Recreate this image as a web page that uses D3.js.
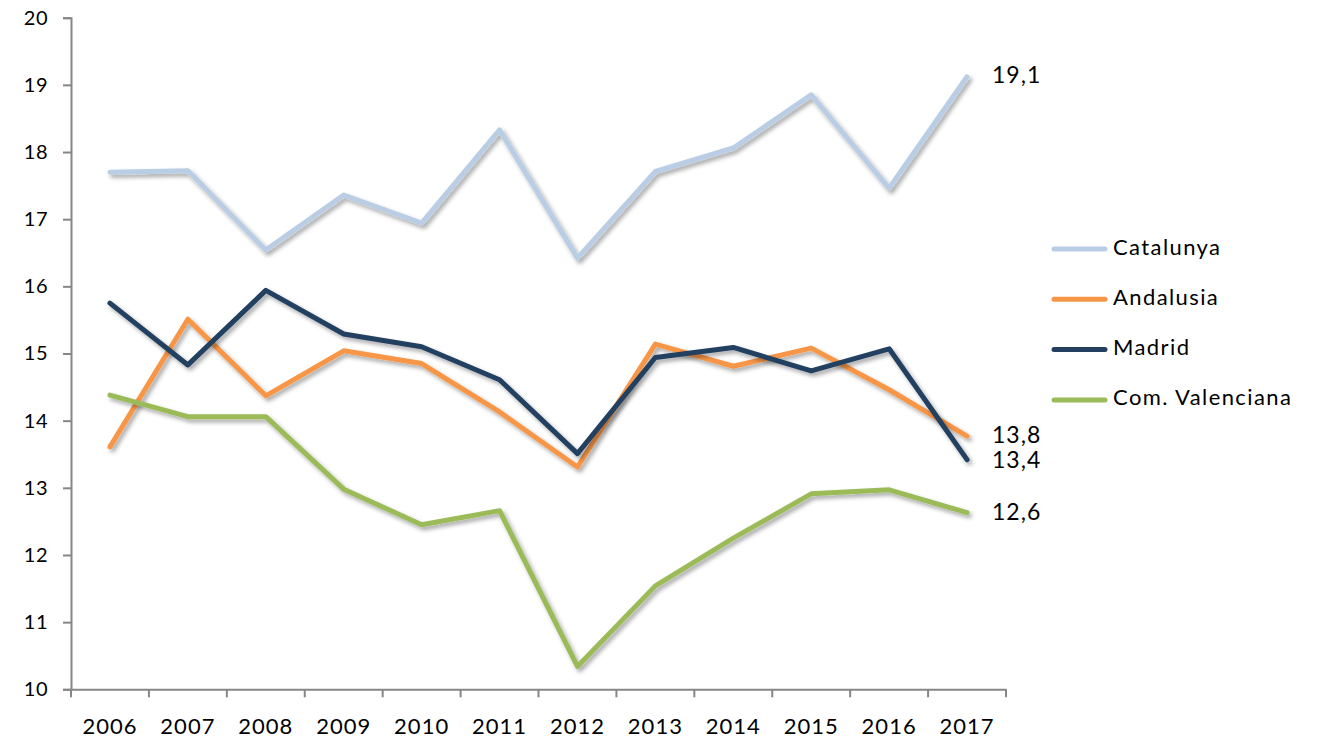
<!DOCTYPE html>
<html>
<head>
<meta charset="utf-8">
<script src="https://cdn.jsdelivr.net/npm/d3@7"></script>
<style>
  body { margin: 0; background: #fff; }
  svg text { font-family: Lato, "Open Sans", sans-serif; fill: #000; }
</style>
</head>
<body>
<svg class="chart" width="1319" height="740"></svg>
<script>
// Data
let years = ["2006", "2007", "2008", "2009", "2010", "2011", "2012", "2013", "2014", "2015", "2016", "2017"];
let catalunya = [17.70, 17.72, 16.54, 17.36, 16.94, 18.33, 16.42, 17.71, 18.06, 18.85, 17.46, 19.12];
let andalusia = [13.61, 15.51, 14.37, 15.04, 14.85, 14.13, 13.31, 15.14, 14.81, 15.08, 14.46, 13.77];
let madrid = [15.75, 14.83, 15.94, 15.29, 15.10, 14.61, 13.51, 14.94, 15.09, 14.74, 15.07, 13.42];
let valenciana = [14.38, 14.06, 14.06, 12.98, 12.45, 12.66, 10.34, 11.54, 12.25, 12.91, 12.97, 12.63];
let endLabels = ["19,1", "13,8", "13,4", "12,6"];
let yTicks = [10, 11, 12, 13, 14, 15, 16, 17, 18, 19, 20];

let series = [
  { name: "Catalunya", values: catalunya, color: "#B9CDE5", label: endLabels[0], dy: 0 },
  { name: "Andalusia", values: andalusia, color: "#F79646", label: endLabels[1], dy: 1 },
  { name: "Madrid", values: madrid, color: "#243F60", label: endLabels[2], dy: 3 },
  { name: "Com. Valenciana", values: valenciana, color: "#9BBB59", label: endLabels[3], dy: 2 }
];

var svg = d3.select(".chart");
let axisColor = "#868686";

var xScale = d3.scaleBand()
               .domain(years)
               .range([71, 1006])
               .paddingInner(0)
               .paddingOuter(0);
var yScale = d3.scaleLinear()
               .domain([10, 20])
               .range([689.3, 17.7]);

let cx = d => xScale(d) + xScale.bandwidth() / 2;

// drop shadow like the Excel line effect
let defs = svg.append("defs");
defs.append("filter")
    .attr("id", "shadow")
    .attr("x", "-10%").attr("y", "-10%")
    .attr("width", "120%").attr("height", "130%")
  .append("feDropShadow")
    .attr("dx", 2.5)
    .attr("dy", 3)
    .attr("stdDeviation", 2)
    .attr("flood-color", "#000")
    .attr("flood-opacity", 0.35);

// y axis
let yAxis = svg.append("g")
   .attr("transform", "translate(71,0)")
   .call(d3.axisLeft(yScale).tickValues(yTicks).tickSize(8).tickPadding(15).tickFormat(d3.format("d")));
yAxis.selectAll("text").style("font-size", "20px").style("letter-spacing", "0.5px");
yAxis.select(".domain").attr("stroke", axisColor).attr("stroke-width", 2);
yAxis.selectAll(".tick line").attr("stroke", axisColor).attr("stroke-width", 2);

// x axis: labels at category centres, ticks between categories
let xAxis = svg.append("g")
   .attr("transform", "translate(0,689.3)")
   .call(d3.axisBottom(xScale).tickSize(0).tickPadding(29).tickSizeOuter(0));
xAxis.selectAll("text").style("font-size", "22px").style("letter-spacing", "1px");
xAxis.select(".domain").attr("stroke", axisColor).attr("stroke-width", 2);
xAxis.selectAll(".sep")
     .data(d3.range(years.length + 1))
     .enter()
     .append("line")
     .attr("class", "sep")
     .attr("x1", i => xScale.range()[0] + i * xScale.step())
     .attr("x2", i => xScale.range()[0] + i * xScale.step())
     .attr("y1", 0)
     .attr("y2", 8)
     .attr("stroke", axisColor)
     .attr("stroke-width", 2);

// lines
let line = d3.line()
    .x((d, i) => cx(years[i]))
    .y(d => yScale(d));

let g = svg.append("g");
for (let i = 0; i < series.length; i++) {
  g.append("path")
   .datum(series[i].values)
   .attr("fill", "none")
   .attr("stroke", series[i].color)
   .attr("stroke-width", 5)
   .attr("stroke-linejoin", "round")
   .attr("stroke-linecap", "round")
   .attr("filter", "url(#shadow)")
   .attr("d", line);

  let last = series[i].values[series[i].values.length - 1];
  svg.append("text")
     .attr("x", cx(years[years.length - 1]) + 25)
     .attr("y", yScale(last) + series[i].dy)
     .attr("dominant-baseline", "middle")
     .style("font-size", "23px")
     .style("letter-spacing", "1px")
     .text(series[i].label);
}

// legend
for (let i = 0; i < series.length; i++) {
  let ly = 249 + i * 50.3;
  svg.append("line")
     .attr("x1", 1054).attr("x2", 1105)
     .attr("y1", ly).attr("y2", ly)
     .attr("stroke", series[i].color)
     .attr("stroke-width", 5)
     .attr("stroke-linecap", "round");
  svg.append("text")
     .attr("x", 1113)
     .attr("y", ly)
     .attr("dominant-baseline", "middle")
     .style("font-size", "22px")
     .style("letter-spacing", "1.4px")
     .text(series[i].name);
}
</script>
</body>
</html>
